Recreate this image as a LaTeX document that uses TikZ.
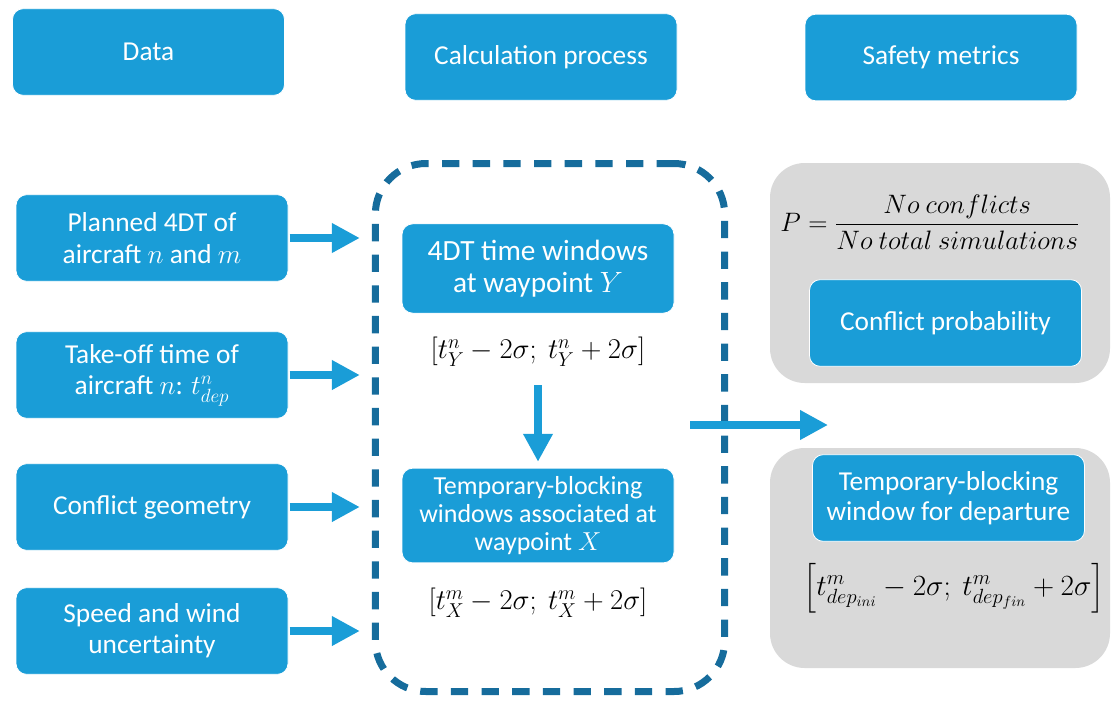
\RequirePackage{fix-cm}
\documentclass[tikz,border=0pt]{standalone}
\usepackage{amsmath}
\usepackage{fontspec}
\setmainfont{Carlito}
\usetikzlibrary{arrows.meta}

\definecolor{boxblue}{RGB}{26,157,215}
\definecolor{frameblue}{RGB}{22,108,156}
\definecolor{panelgray}{RGB}{217,217,217}

\tikzset{
  bluebox/.style={draw=white, line width=0.6pt, fill=boxblue, text=white, rounded corners=8pt,
    align=center, minimum width=204pt, minimum height=65pt, inner sep=2pt,
    font=\fontsize{20.5}{23.5}\selectfont},
  graybox/.style={fill=panelgray, rounded corners=26pt, minimum width=255pt, minimum height=165pt},
  mathlabel/.style={inner sep=0.75pt, font=\fontsize{21.5}{24}\selectfont},
  flowarrow/.style={draw=boxblue, line width=6pt, -{Triangle[length=21pt,width=21pt]}},
}

\begin{document}
\begin{tikzpicture}[x=0.75pt,y=0.75pt,yscale=-1,xscale=1]
\useasboundingbox (0,0) rectangle (1112,700);

%Shape: Rounded Rectangle [gray panels]
\node[graybox] (probpanel) at (940,273) {};
\node[graybox] (deppanel) at (940,558) {};

%Shape: Rounded Rectangle [dashed frame]
\node[draw=frameblue, line width=5.25pt, dash pattern=on 13pt off 10pt, rounded corners=38pt,
  minimum width=262pt, minimum height=396pt] (calcframe) at (550,427.5) {};

% Header Nodes
\node[bluebox] (data) at (148.5,52) {Data};
\node[bluebox] (calc) at (541,57) {Calculation process};
\node[bluebox] (safety) at (941,57.5) {Safety metrics};

% Input Nodes
\node[bluebox] (plan) at (152,238) {Planned 4DT of\\aircraft $n$ and $m$};
\node[bluebox] (takeoff) at (152,375) {Take-off time of\\aircraft $n$: $t^{n}_{dep}$};
\node[bluebox] (geom) at (152,507) {Conflict geometry};
\node[bluebox] (uncert) at (152,631) {Speed and wind\\uncertainty};

% Calculation Nodes
\node[bluebox, minimum height=67pt, font=\fontsize{22}{24}\selectfont] (win4dt) at (538,268.5) {4DT time windows\\at waypoint $Y$};
\node[mathlabel] (fmlY) at (538,352) {$[t^{n}_{Y}-2\sigma;\ t^{n}_{Y}+2\sigma]$};
\node[bluebox, minimum height=71pt, font=\fontsize{19.5}{21}\selectfont] (blockwin) at (538,515.5) {Temporary-blocking\\windows associated at\\waypoint $X$};
\node[mathlabel] (fmlX) at (538,603) {$[t^{m}_{X}-2\sigma;\ t^{m}_{X}+2\sigma]$};

% Metric Nodes
\node[mathlabel, font=\fontsize{20}{24}\selectfont] (fmlP) at (930,222) {$P=\dfrac{No\ conflicts}{No\ total\ simulations}$};
\node[bluebox] (probbox) at (945.5,323) {Conflict probability};
\node[bluebox, font=\fontsize{20.5}{22.5}\selectfont] (depwin) at (948.5,498) {Temporary-blocking\\window for departure};
\node[mathlabel, font=\fontsize{22}{25}\selectfont] (fmlDep) at (954,588) {$\left[t^{m}_{dep_{ini}}-2\sigma;\ t^{m}_{dep_{fin}}+2\sigma\right]$};

%Straight Lines [arrows]
\foreach \src in {plan,takeoff,geom,uncert}
  \draw[flowarrow, shorten <=1pt, shorten >=9pt] (\src.east) -- (\src.east -| calcframe.west);
\draw[flowarrow, shorten <=24.75pt, shorten >=4.5pt] (fmlY.center) -- (blockwin.north);
\coordinate (outstart) at (690,425);
\coordinate (outend) at (828,425);
\draw[flowarrow] (outstart) -- (outend);
\end{tikzpicture}
\end{document}
